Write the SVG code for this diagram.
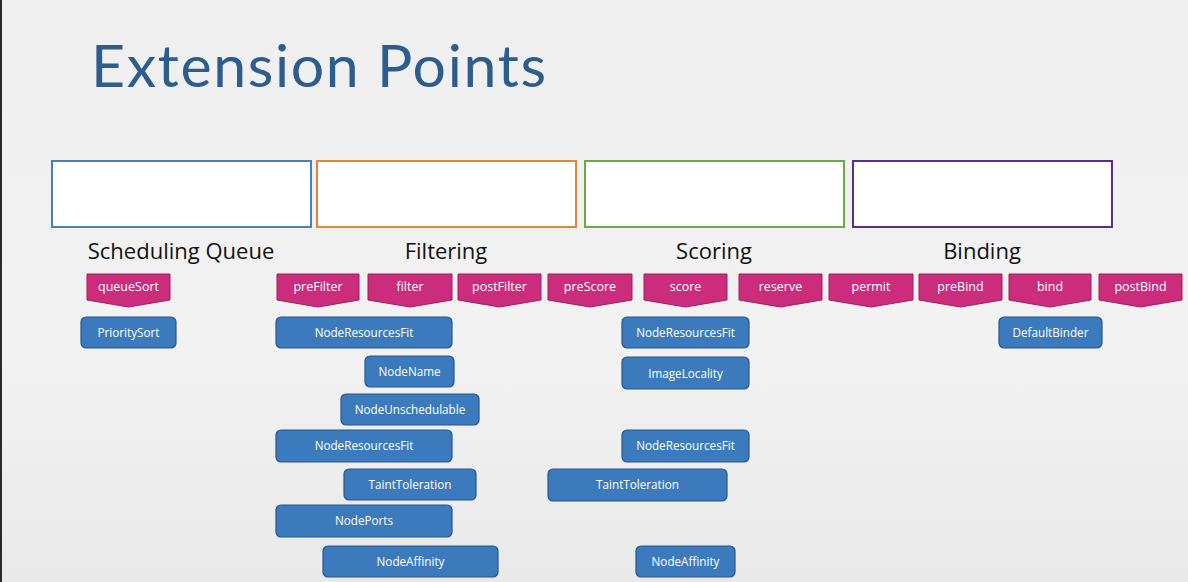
<svg xmlns="http://www.w3.org/2000/svg" width="1188" height="582" viewBox="0 0 1188 582">
<defs>
<linearGradient id="bg" x1="0" y1="0" x2="0" y2="1">
<stop offset="0" stop-color="#efefef"/>
<stop offset="0.6" stop-color="#f2f2f2"/>
<stop offset="1" stop-color="#e9e9e9"/>
</linearGradient>
<style>
.title{font-family:"Lato","Open Sans",sans-serif;font-weight:400;font-size:59px;fill:#2c5d8c}
.stage{fill:#ffffff;stroke-width:2}
.head{font-family:"Open Sans","Noto Sans",sans-serif;font-size:22px;fill:#111;text-anchor:middle}
.ext{fill:#cc2c7c;stroke:#9e1f5e;stroke-width:1}
.extt{font-family:"Open Sans","Noto Sans",sans-serif;font-size:12.5px;fill:#fff;text-anchor:middle}
.plg{fill:#3b7bbd;stroke:#28558a;stroke-width:1.2}
.plgt{font-family:"Open Sans","Noto Sans",sans-serif;font-size:11.7px;fill:#fff;text-anchor:middle}
</style>
</defs>
<rect width="1188" height="582" fill="url(#bg)"/>
<rect x="0" y="0" width="2" height="582" fill="#2a2a2a"/>
<text class="title" x="91" y="87" textLength="455" lengthAdjust="spacing">Extension Points</text>

<g id="stages">
<rect class="stage" x="52" y="161" width="259" height="66" stroke="#4a80b8"/>
<rect class="stage" x="317" y="161" width="259" height="66" stroke="#e0863a"/>
<rect class="stage" x="585" y="161" width="259" height="66" stroke="#69ab47"/>
<rect class="stage" x="853" y="161" width="259" height="66" stroke="#5a2d88"/>
</g>

<g id="headings">
<text class="head" x="181" y="259">Scheduling Queue</text>
<text class="head" x="446" y="259">Filtering</text>
<text class="head" x="714" y="259">Scoring</text>
<text class="head" x="982" y="259">Binding</text>
</g>

<g id="ext-queueSort"><polygon class="ext" points="87,274 170,274 170,300 128.5,307 87,300"/><text class="extt" x="128.5" y="291">queueSort</text></g>
<g id="ext-preFilter"><polygon class="ext" points="277,274 359,274 359,300 318,307 277,300"/><text class="extt" x="318" y="291">preFilter</text></g>
<g id="ext-filter"><polygon class="ext" points="368,274 452,274 452,300 410,307 368,300"/><text class="extt" x="410" y="291">filter</text></g>
<g id="ext-postFilter"><polygon class="ext" points="458,274 541,274 541,300 499.5,307 458,300"/><text class="extt" x="499.5" y="291">postFilter</text></g>
<g id="ext-preScore"><polygon class="ext" points="548,274 632,274 632,300 590,307 548,300"/><text class="extt" x="590" y="291">preScore</text></g>
<g id="ext-score"><polygon class="ext" points="644,274 727,274 727,300 685.5,307 644,300"/><text class="extt" x="685.5" y="291">score</text></g>
<g id="ext-reserve"><polygon class="ext" points="739,274 822,274 822,300 780.5,307 739,300"/><text class="extt" x="780.5" y="291">reserve</text></g>
<g id="ext-permit"><polygon class="ext" points="829,274 913,274 913,300 871,307 829,300"/><text class="extt" x="871" y="291">permit</text></g>
<g id="ext-preBind"><polygon class="ext" points="919,274 1002,274 1002,300 960.5,307 919,300"/><text class="extt" x="960.5" y="291">preBind</text></g>
<g id="ext-bind"><polygon class="ext" points="1009,274 1091,274 1091,300 1050,307 1009,300"/><text class="extt" x="1050" y="291">bind</text></g>
<g id="ext-postBind"><polygon class="ext" points="1099,274 1182,274 1182,300 1140.5,307 1099,300"/><text class="extt" x="1140.5" y="291">postBind</text></g>

<g id="p-PrioritySort"><rect class="plg" x="81" y="317" width="95" height="31" rx="5"/><text class="plgt" x="128.5" y="337">PrioritySort</text></g>
<g id="p-NodeResourcesFit-1"><rect class="plg" x="276" y="317" width="176" height="31" rx="5"/><text class="plgt" x="364" y="337">NodeResourcesFit</text></g>
<g id="p-NodeName"><rect class="plg" x="365" y="356" width="89" height="31" rx="5"/><text class="plgt" x="409.5" y="376">NodeName</text></g>
<g id="p-NodeUnschedulable"><rect class="plg" x="341" y="394" width="138" height="31" rx="5"/><text class="plgt" x="410" y="414">NodeUnschedulable</text></g>
<g id="p-NodeResourcesFit-2"><rect class="plg" x="276" y="430" width="176" height="32" rx="5"/><text class="plgt" x="364" y="450">NodeResourcesFit</text></g>
<g id="p-TaintToleration-1"><rect class="plg" x="344" y="469" width="132" height="31" rx="5"/><text class="plgt" x="410" y="489">TaintToleration</text></g>
<g id="p-NodePorts"><rect class="plg" x="276" y="505" width="176" height="32" rx="5"/><text class="plgt" x="364" y="525">NodePorts</text></g>
<g id="p-NodeAffinity-1"><rect class="plg" x="323" y="546" width="175" height="31" rx="5"/><text class="plgt" x="410.5" y="566">NodeAffinity</text></g>
<g id="p-NodeResourcesFit-3"><rect class="plg" x="622" y="317" width="127" height="31" rx="5"/><text class="plgt" x="685.5" y="337">NodeResourcesFit</text></g>
<g id="p-ImageLocality"><rect class="plg" x="622" y="357" width="127" height="32" rx="5"/><text class="plgt" x="685.5" y="378">ImageLocality</text></g>
<g id="p-NodeResourcesFit-4"><rect class="plg" x="622" y="430" width="127" height="32" rx="5"/><text class="plgt" x="685.5" y="450">NodeResourcesFit</text></g>
<g id="p-TaintToleration-2"><rect class="plg" x="548" y="469" width="179" height="32" rx="5"/><text class="plgt" x="637.5" y="489">TaintToleration</text></g>
<g id="p-NodeAffinity-2"><rect class="plg" x="636" y="546" width="99" height="31" rx="5"/><text class="plgt" x="685.5" y="566">NodeAffinity</text></g>
<g id="p-DefaultBinder"><rect class="plg" x="999" y="317" width="103" height="31" rx="5"/><text class="plgt" x="1050.5" y="337">DefaultBinder</text></g>

<g id="connectors"/>
</svg>
